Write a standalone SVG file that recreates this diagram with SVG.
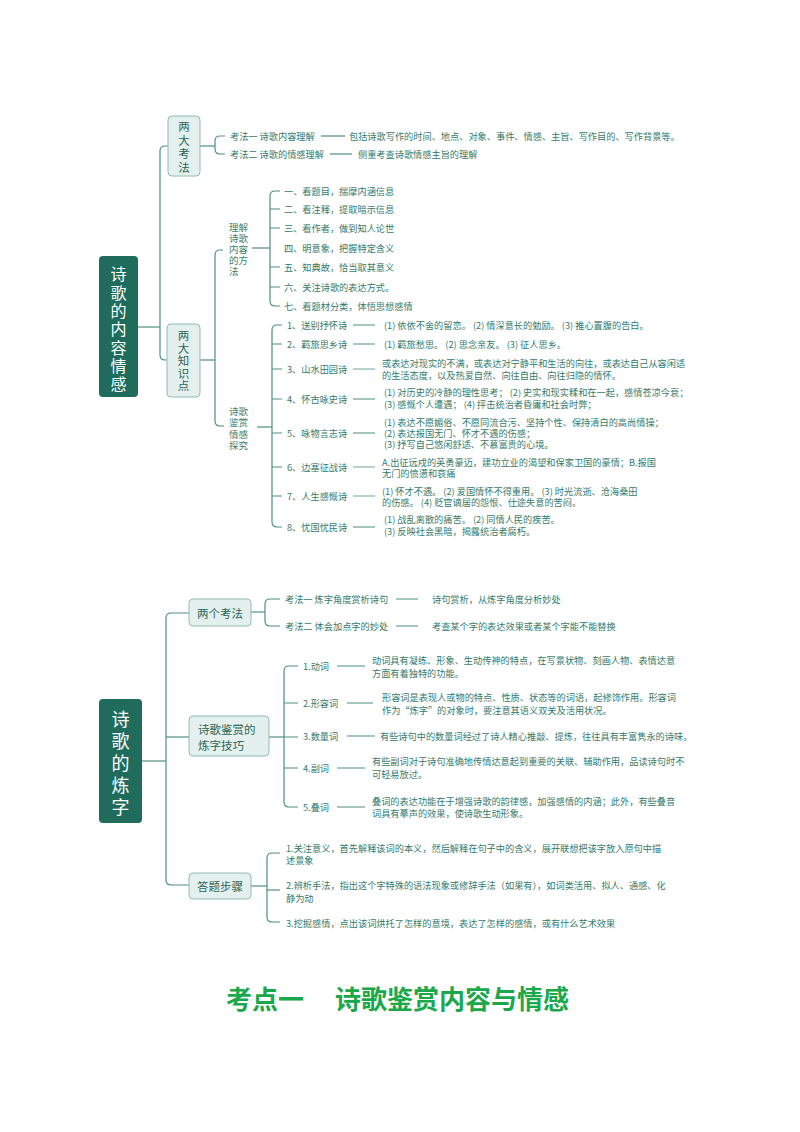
<svg xmlns="http://www.w3.org/2000/svg" width="800" height="1132" viewBox="0 0 800 1132">
<style>
text{font-family:"Noto Sans CJK SC","Noto Sans",sans-serif;dominant-baseline:central}
.root rect{fill:#1f6b5c}
.root text{fill:#ffffff;text-anchor:middle}
.box rect{fill:#e4f0ed;stroke:#93bbb1;stroke-width:1}
.box text{fill:#2a6659;font-size:11.5px}
.lbl text{fill:#3a7d6f;font-size:9.5px}
.t{fill:#347a6b;font-size:9.2px}
.con path{fill:none;stroke:#4f8f81;stroke-width:1.2}
.con .lt{stroke:#6fa698}
.title{fill:#1aa84a;font-size:26px;font-weight:bold}
</style>
<rect width="800" height="1132" fill="#ffffff"/>

<g id="connectors" class="con">
  <!-- top section -->
  <path d="M138,327 H160"/>
  <path d="M168,146 H165 Q160,146 160,151 V355 Q160,360 165,360 H167"/>
  <path d="M200,146 H215"/>
  <path d="M225,136 H220 Q215,136 215,141 V149 Q215,154 220,154 H225"/>
  <path d="M321,136 H345"/>
  <path d="M330,154 H352"/>
  <path d="M200,360 H215"/>
  <path d="M223,250 H220 Q215,250 215,255 V421 Q215,426 220,426 H224"/>
  <path d="M252,248 H270"/>
  <path d="M280,191 H275 Q270,191 270,196 V301 Q270,306 275,306 H280"/>
  <path d="M270,209 H280 M270,228 H280 M270,267 H280 M270,287 H280"/>
  <path d="M257,427 H272"/>
  <path d="M282,325 H277 Q272,325 272,330 V522 Q272,527 277,527 H282"/>
  <path d="M272,344 H282 M272,369 H282 M272,399 H282 M272,433 H282 M272,467 H282 M272,496 H282"/>
  <path d="M353,325 H375 M353,344 H375 M353,399 H375 M353,433 H375 M353,527 H375"/>
  <path class="lt" d="M353,369 H375 M353,467 H375 M353,496 H375"/>
  <!-- bottom section -->
  <path d="M142,761 H166"/>
  <path d="M189,613 H171 Q166,613 166,618 V880 Q166,885 171,885 H189"/>
  <path d="M166,737 H189"/>
  <path d="M251,612 H265"/>
  <path d="M280,599 H270 Q265,599 265,604 V621 Q265,626 270,626 H280"/>
  <path d="M396,599 H418 M396,626 H418"/>
  <path d="M269,737 H284"/>
  <path d="M298,666 H289 Q284,666 284,671 V802 Q284,807 289,807 H298"/>
  <path d="M284,703 H298 M284,737 H298 M284,768 H298"/>
  <path d="M337,666 H365 M347,703 H373 M347,736 H375 M337,768 H365 M337,807 H365"/>
  <path d="M251,886 H267"/>
  <path d="M280,853 H272 Q267,853 267,858 V917 Q267,922 272,922 H280"/>
  <path d="M267,890 H280"/>
</g>

<!-- ===== Top section ===== -->
<g id="root-content" class="root">
  <rect x="99" y="256" width="39" height="141" rx="4"/>
  <text font-size="16">
    <tspan x="118.5" y="273">诗</tspan><tspan x="118.5" y="291.5">歌</tspan><tspan x="118.5" y="310">的</tspan><tspan x="118.5" y="328">内</tspan><tspan x="118.5" y="346.5">容</tspan><tspan x="118.5" y="365">情</tspan><tspan x="118.5" y="383">感</tspan>
  </text>
</g>

<g id="box-liangdakaofa" class="box">
  <rect x="168" y="116" width="32" height="60" rx="4"/>
  <text text-anchor="middle">
    <tspan x="184" y="126">两</tspan><tspan x="184" y="139.5">大</tspan><tspan x="184" y="153">考</tspan><tspan x="184" y="166.5">法</tspan>
  </text>
</g>

<g id="kaofa1">
  <text class="t" x="230" y="136">考法一 诗歌内容理解</text>
  <text class="t" x="349" y="136">包括诗歌写作的时间、地点、对象、事件、情感、主旨、写作目的、写作背景等。</text>
</g>
<g id="kaofa2">
  <text class="t" x="230" y="154">考法二 诗歌的情感理解</text>
  <text class="t" x="358" y="154">侧重考查诗歌情感主旨的理解</text>
</g>

<g id="box-liangdazhishidian" class="box">
  <rect x="167" y="324" width="33" height="73" rx="4"/>
  <text text-anchor="middle">
    <tspan x="183.5" y="335">两</tspan><tspan x="183.5" y="347.5">大</tspan><tspan x="183.5" y="360">知</tspan><tspan x="183.5" y="372.5">识</tspan><tspan x="183.5" y="385">点</tspan>
  </text>
</g>

<g id="label-lijie" class="lbl">
  <text>
    <tspan x="229" y="227">理解</tspan><tspan x="229" y="238">诗歌</tspan><tspan x="229" y="249">内容</tspan><tspan x="229" y="260">的方</tspan><tspan x="229" y="271">法</tspan>
  </text>
</g>

<g id="methods">
  <text class="t" x="284" y="191">一、看题目，揣摩内涵信息</text>
  <text class="t" x="284" y="209">二、看注释，提取暗示信息</text>
  <text class="t" x="284" y="228">三、看作者，做到知人论世</text>
  <text class="t" x="284" y="248">四、明意象，把握特定含义</text>
  <text class="t" x="284" y="267">五、知典故，恰当取其意义</text>
  <text class="t" x="284" y="287">六、关注诗歌的表达方式。</text>
  <text class="t" x="284" y="306">七、看题材分类，体悟思想感情</text>
</g>

<g id="label-jianshang" class="lbl">
  <text>
    <tspan x="229" y="411">诗歌</tspan><tspan x="229" y="422">鉴赏</tspan><tspan x="229" y="434">情感</tspan><tspan x="229" y="445">探究</tspan>
  </text>
</g>

<g id="poem-1">
  <text class="t" x="287" y="325">1、送别抒怀诗</text>
  <text class="t" x="384" y="325">(1) 依依不舍的留恋。 (2) 情深意长的勉励。 (3) 推心置腹的告白。</text>
</g>
<g id="poem-2">
  <text class="t" x="287" y="344">2、羁旅思乡诗</text>
  <text class="t" x="384" y="344">(1) 羁旅愁思。 (2) 思念亲友。 (3) 征人思乡。</text>
</g>
<g id="poem-3">
  <text class="t" x="287" y="369">3、山水田园诗</text>
  <text class="t" x="382" y="363">或表达对现实的不满，或表达对宁静平和生活的向往，或表达自己从容闲适</text>
  <text class="t" x="382" y="375">的生活态度，以及热爱自然、向往自由、向往归隐的情怀。</text>
</g>
<g id="poem-4">
  <text class="t" x="287" y="399">4、怀古咏史诗</text>
  <text class="t" x="384" y="392">(1) 对历史的冷静的理性思考； (2) 史实和现实糅和在一起，感情苍凉今衰；</text>
  <text class="t" x="384" y="404">(3) 感慨个人遭遇； (4) 抨击统治者昏庸和社会时弊；</text>
</g>
<g id="poem-5">
  <text class="t" x="287" y="433">5、咏物言志诗</text>
  <text class="t" x="384" y="422">(1) 表达不愿媚俗、不愿同流合污、坚持个性、保持清白的高尚情操；</text>
  <text class="t" x="384" y="433">(2) 表达报国无门、怀才不遇的伤感；</text>
  <text class="t" x="384" y="444">(3) 抒写自己悠闲舒适、不慕富贵的心境。</text>
</g>
<g id="poem-6">
  <text class="t" x="287" y="467">6、边塞征战诗</text>
  <text class="t" x="382" y="462">A.出征远戍的英勇豪迈，建功立业的渴望和保家卫国的豪情；B.报国</text>
  <text class="t" x="382" y="473">无门的愤懑和哀痛</text>
</g>
<g id="poem-7">
  <text class="t" x="287" y="496">7、人生感慨诗</text>
  <text class="t" x="382" y="491">(1) 怀才不遇。 (2) 爱国情怀不得重用。 (3) 时光流逝、沧海桑田</text>
  <text class="t" x="382" y="502">的伤感。 (4) 贬官谪居的怨恨、仕途失意的苦闷。</text>
</g>
<g id="poem-8">
  <text class="t" x="287" y="527">8、忧国忧民诗</text>
  <text class="t" x="384" y="519">(1) 战乱离散的痛苦。 (2) 同情人民的疾苦。</text>
  <text class="t" x="384" y="531">(3) 反映社会黑暗，揭露统治者腐朽。</text>
</g>

<!-- ===== Bottom section ===== -->
<g id="root-lianzi" class="root">
  <rect x="99" y="699" width="43" height="124" rx="4"/>
  <text font-size="18">
    <tspan x="120.5" y="718">诗</tspan><tspan x="120.5" y="740">歌</tspan><tspan x="120.5" y="762">的</tspan><tspan x="120.5" y="784">炼</tspan><tspan x="120.5" y="806">字</tspan>
  </text>
</g>

<g id="box-lianggekaofa" class="box">
  <rect x="189" y="599" width="62" height="27" rx="4"/>
  <text x="220" y="612.5" text-anchor="middle">两个考法</text>
</g>
<g id="kf-1">
  <text class="t" x="285" y="599">考法一 炼字角度赏析诗句</text>
  <text class="t" x="432" y="599">诗句赏析，从炼字角度分析妙处</text>
</g>
<g id="kf-2">
  <text class="t" x="285" y="626">考法二 体会加点字的妙处</text>
  <text class="t" x="432" y="626">考查某个字的表达效果或者某个字能不能替换</text>
</g>

<g id="box-jiqiao" class="box">
  <rect x="189" y="716" width="80" height="40" rx="4"/>
  <text><tspan x="198" y="729">诗歌鉴赏的</tspan><tspan x="198" y="745">炼字技巧</tspan></text>
</g>
<g id="w-1">
  <text class="t" x="303" y="666">1.动词</text>
  <text class="t" x="372" y="660">动词具有凝练、形象、生动传神的特点，在写景状物、刻画人物、表情达意</text>
  <text class="t" x="372" y="673">方面有着独特的功能。</text>
</g>
<g id="w-2">
  <text class="t" x="303" y="703">2.形容词</text>
  <text class="t" x="382" y="697">形容词是表现人或物的特点、性质、状态等的词语，起修饰作用。形容词</text>
  <text class="t" x="382" y="710">作为“炼字”的对象时，要注意其语义双关及活用状况。</text>
</g>
<g id="w-3">
  <text class="t" x="303" y="736">3.数量词</text>
  <text class="t" x="380" y="736">有些诗句中的数量词经过了诗人精心推敲、提炼，往往具有丰富隽永的诗味。</text>
</g>
<g id="w-4">
  <text class="t" x="303" y="768">4.副词</text>
  <text class="t" x="372" y="761">有些副词对于诗句准确地传情达意起到重要的关联、辅助作用，品读诗句时不</text>
  <text class="t" x="372" y="774">可轻易放过。</text>
</g>
<g id="w-5">
  <text class="t" x="303" y="807">5.叠词</text>
  <text class="t" x="372" y="801">叠词的表达功能在于增强诗歌的韵律感，加强感情的内涵；此外，有些叠音</text>
  <text class="t" x="372" y="813">词具有摹声的效果，使诗歌生动形象。</text>
</g>

<g id="box-buzhou" class="box">
  <rect x="189" y="873" width="62" height="26" rx="4"/>
  <text x="220" y="886" text-anchor="middle">答题步骤</text>
</g>
<g id="step-1">
  <text class="t" x="286" y="848">1.关注意义，首先解释该词的本义，然后解释在句子中的含义，展开联想把该字放入原句中描</text>
  <text class="t" x="286" y="860">述景象</text>
</g>
<g id="step-2">
  <text class="t" x="286" y="885">2.辨析手法，指出这个字特殊的语法现象或修辞手法（如果有），如词类活用、拟人、通感、化</text>
  <text class="t" x="286" y="898">静为动</text>
</g>
<g id="step-3">
  <text class="t" x="286" y="923">3.挖掘感情，点出该词烘托了怎样的意境，表达了怎样的感情，或有什么艺术效果</text>
</g>

<g id="title">
  <text class="title" x="226" y="997">考点一</text>
  <text class="title" x="335" y="997">诗歌鉴赏内容与情感</text>
</g>
</svg>
